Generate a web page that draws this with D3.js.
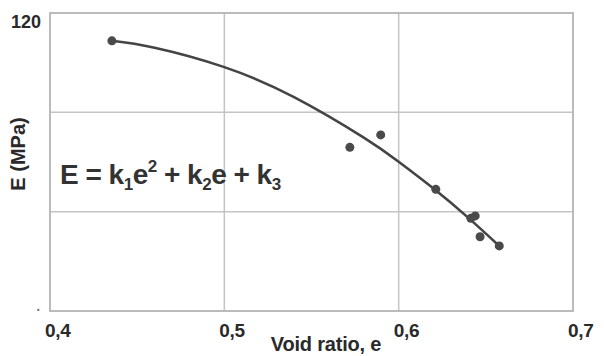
<!DOCTYPE html>
<html><head><meta charset="utf-8">
<script src="https://cdn.jsdelivr.net/npm/d3@7"></script>
<style>
html,body{margin:0;padding:0;background:#fff;}
svg{display:block;font-family:"Liberation Sans",Arial,sans-serif;}
</style></head>
<body><svg id="c" width="604" height="356"></svg>
<script>
// data
const voidRatio = [0.4355, 0.572, 0.5897, 0.6213, 0.6414, 0.6439, 0.6467, 0.6577];
const modulus   = [108.8, 65.9, 70.9, 49.0, 37.3, 38.3, 29.9, 26.2];
// fitted trend curve
const curveE    = [0.4355, 0.46, 0.50, 0.54, 0.58, 0.60, 0.62, 0.64, 0.6577];
const curveVal  = [108.8, 106.0, 98.2, 86.1, 69.8, 60.1, 49.3, 37.5, 26.2];
const xTicks = [0.4, 0.5, 0.6, 0.7];
const xTickLabels = ["0,4", "0,5", "0,6", "0,7"];
const yTicks = [0, 40, 80, 120];
const yTickLabels = ["·", "", "", "120"];

const svg = d3.select("#c");
const L = 50, R = 573, T = 13, B = 311;
const x = d3.scaleLinear().domain([0.4, 0.7]).range([L, R]);
const y = d3.scaleLinear().domain([0, 120]).range([B, T]);

// grid
const grid = svg.append("g");
grid.selectAll(".gx").data(xTicks.slice(1, -1)).enter().append("line")
  .attr("x1", d => x(d)).attr("x2", d => x(d)).attr("y1", T).attr("y2", B)
  .attr("stroke", "#c4c4c4").attr("stroke-width", 1.5);
grid.selectAll(".gy").data(yTicks.slice(1, -1)).enter().append("line")
  .attr("x1", L).attr("x2", R).attr("y1", d => y(d)).attr("y2", d => y(d))
  .attr("stroke", "#c4c4c4").attr("stroke-width", 1.5);
// border
svg.append("rect").attr("x", L).attr("y", T).attr("width", R - L).attr("height", B - T)
  .attr("fill", "none").attr("stroke", "#b4b4b4").attr("stroke-width", 1.8);

// x tick labels
svg.selectAll(".xl").data(xTicks).enter().append("text")
  .attr("x", d => x(d) - 5).attr("y", 337)
  .attr("font-size", 19).attr("font-weight", "bold").attr("fill", "#2a2a2a")
  .attr("letter-spacing", -0.3)
  .text((d, i) => xTickLabels[i]);
// y tick labels
svg.selectAll(".yl").data(yTicks).enter().append("text")
  .attr("x", 41).attr("y", d => y(d) + (d === 120 ? 15 : 4))
  .attr("text-anchor", "end")
  .attr("font-size", d => d === 120 ? 18 : 14).attr("font-weight", "bold")
  .attr("fill", d => d === 120 ? "#2a2a2a" : "#777")
  .text((d, i) => yTickLabels[i]);

// axis titles
svg.append("text").attr("x", 326).attr("y", 351).attr("text-anchor", "middle")
  .attr("font-size", 20).attr("font-weight", "bold").attr("fill", "#2a2a2a")
  .attr("letter-spacing", -0.2)
  .text("Void ratio, e");
svg.append("text").attr("transform", "translate(25,154) rotate(-90)")
  .attr("text-anchor", "middle")
  .attr("font-size", 20).attr("font-weight", "bold").attr("fill", "#2a2a2a")
  .text("E (MPa)");

// equation
const eq = svg.append("text").attr("x", 60).attr("y", 184)
  .attr("font-size", 28).attr("font-weight", "bold").attr("fill", "#333")
  .attr("letter-spacing", -0.5);
eq.append("tspan").text("E = k");
eq.append("tspan").attr("font-size", 17).attr("dy", 6).text("1");
eq.append("tspan").attr("dy", -6).text("e");
eq.append("tspan").attr("font-size", 17).attr("dy", -12).text("2");
eq.append("tspan").attr("dy", 12).text(" + k");
eq.append("tspan").attr("font-size", 17).attr("dy", 6).text("2");
eq.append("tspan").attr("dy", -6).text("e + k");
eq.append("tspan").attr("font-size", 17).attr("dy", 6).text("3");

// trend curve
const pts = curveE.map((e, i) => [e, curveVal[i]]);
svg.append("path").datum(pts)
  .attr("d", d3.line().x(d => x(d[0])).y(d => y(d[1])).curve(d3.curveNatural))
  .attr("fill", "none").attr("stroke", "#444").attr("stroke-width", 2.6);

// points
svg.selectAll(".pt").data(voidRatio).enter().append("circle")
  .attr("cx", d => x(d)).attr("cy", (d, i) => y(modulus[i])).attr("r", 4.5)
  .attr("fill", "#4a4a4a");
</script></body></html>
